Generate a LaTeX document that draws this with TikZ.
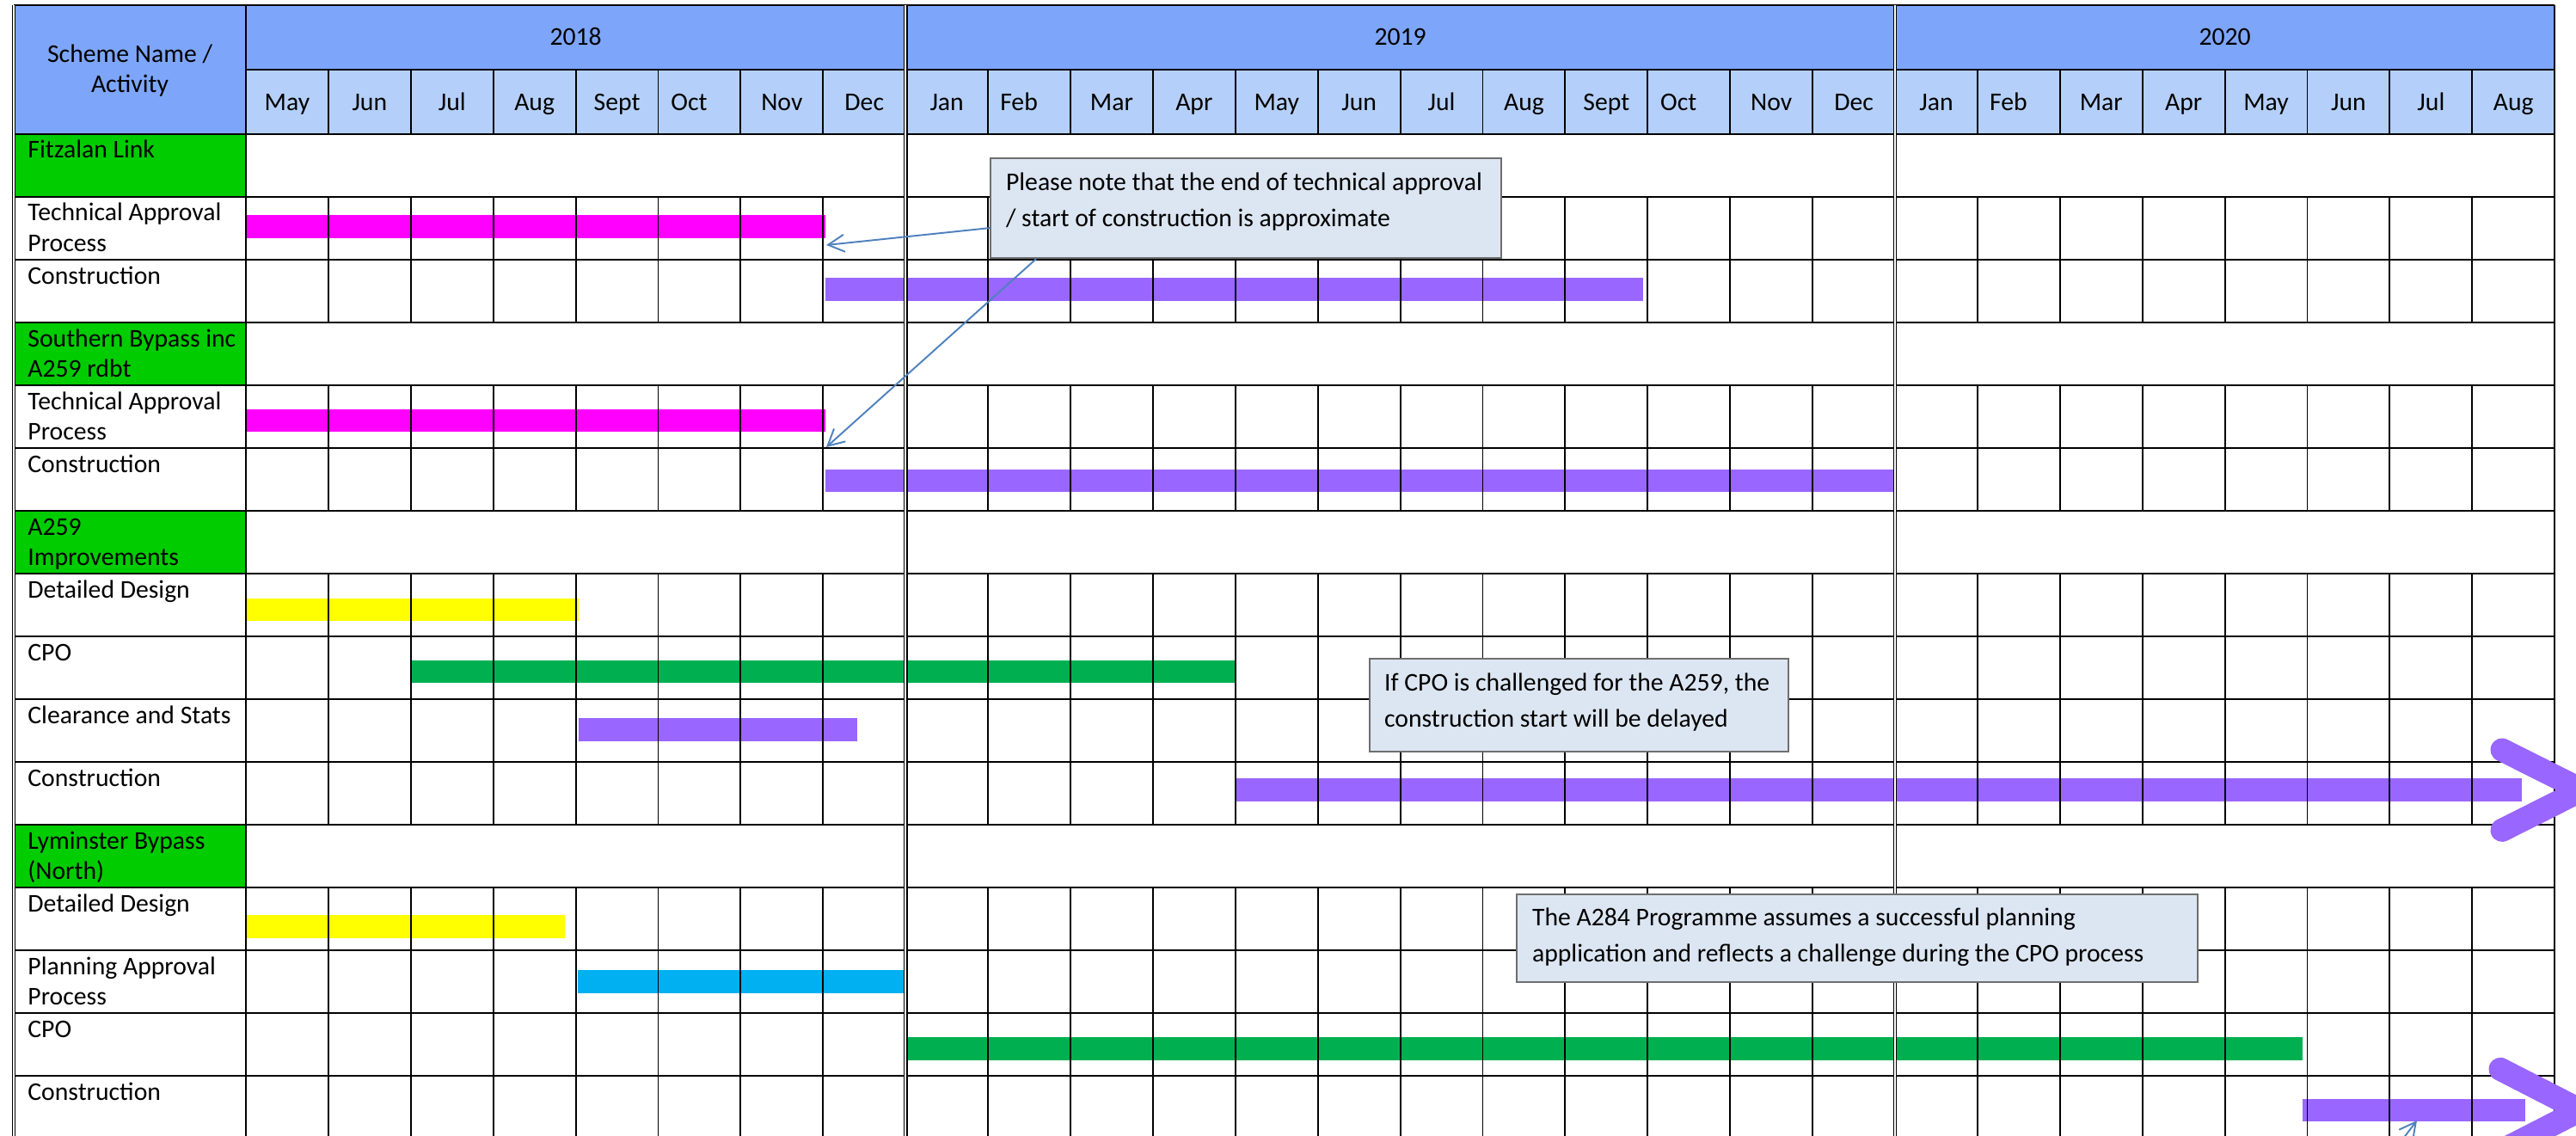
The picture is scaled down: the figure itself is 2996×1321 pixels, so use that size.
\documentclass[tikz,border=0pt]{standalone}
\usepackage{fontspec}
\setmainfont{Carlito}
\usetikzlibrary{arrows.meta,calc}

\definecolor{yearblue}{RGB}{125,166,250}
\definecolor{monthblue}{RGB}{180,208,250}
\definecolor{schemegreen}{RGB}{0,204,0}
\definecolor{barmagenta}{RGB}{255,0,255}
\definecolor{barpurple}{RGB}{153,102,255}
\definecolor{baryellow}{RGB}{255,255,0}
\definecolor{bargreen}{RGB}{0,176,80}
\definecolor{barcyan}{RGB}{0,176,240}
\definecolor{notefill}{RGB}{220,230,242}
\definecolor{notedraw}{RGB}{110,110,110}
\definecolor{noteblue}{RGB}{79,129,189}

\begin{document}
\begin{tikzpicture}[x=0.1mm,y=-0.1mm,
    txt/.style={font=\fontsize{8.45}{9.96}\selectfont,inner sep=0pt},
    rowlabel/.style={txt,anchor=base west,text width=25mm,align=flush left},
    monthlabel/.style={txt,anchor=base},
    note/.style={txt,anchor=north west,draw=notedraw,fill=notefill,line width=0.6pt,
      align=flush left,inner xsep=1.8mm,inner ysep=0pt,text height=3.7mm,
      font=\fontsize{8.45}{11.95}\selectfont},
    callarrow/.style={draw=noteblue,line width=0.55pt,-{Straight Barb[length=1.9mm,width=2mm]}},
    bar/.style={line width=2.65mm,line cap=butt},
    chevron/.style={barpurple,line width=2.7mm,line cap=round,line join=miter},
    grid/.style={line width=0.55pt},
    yearline/.style={line width=0.4pt,double,double distance=0.6pt}]
\useasboundingbox (0,0) rectangle (2996,1321);
\clip (0,0) rectangle (2996,1321);
\fill[white] (0,0) rectangle (2996,1321);

% header
\fill[yearblue] (16,6) rectangle (2971,81);
\fill[yearblue] (16,81) rectangle (286,155.7);
\fill[monthblue] (286,81) rectangle (2971,155.7);
\foreach \r in {0,3,6,11}
  \fill[schemegreen] (16,{155.7+73*\r}) rectangle (286,{228.7+73*\r});

% bars
\draw[bar,barmagenta] (286,263.4) -- (960,263.4);
\draw[bar,barpurple] (960,336.3) -- (1911,336.3);
\draw[bar,barmagenta] (286,488.8) -- (960,488.8);
\draw[bar,barpurple] (960,559) -- (2205,559);
\draw[bar,baryellow] (286,709) -- (673,709);
\draw[bar,bargreen] (479,781) -- (1438,781);
\draw[bar,barpurple] (673,848.7) -- (997,848.7);
\draw[bar,barpurple] (1438,918.7) -- (2933,918.7);
\draw[bar,baryellow] (286,1077.5) -- (657,1077.5);
\draw[bar,barcyan] (672,1141.5) -- (1051,1141.5);
\draw[bar,bargreen] (1053,1219.5) -- (2678,1219.5);
\draw[bar,barpurple] (2678,1291) -- (2937,1291);

% grid
\foreach \ya/\yb in {81/155.7,228.7/374.7,447.7/593.7,666.7/958.7,1031.7/1330}
  \foreach \m in {1,...,27}
    \draw[grid] ({286+95.9*\m},\ya) -- ({286+95.9*\m},\yb);
\foreach \r in {0,...,15}
  \draw[grid] (16,{155.7+73*\r}) -- (2971,{155.7+73*\r});
\draw[grid] (16,6) -- (2971,6);
\draw[grid] (286,81) -- (2971,81);
\draw[grid] (2971,6) -- (2971,1330);
\draw[line width=0.8pt] (286,6) -- (286,1330);
\draw[yearline] (16,6) -- (16,1330);
\foreach \m in {8,20}
  \draw[yearline] ({286+95.9*\m},6) -- ({286+95.9*\m},1330);

% chevrons
\draw[chevron] (2910,872) -- (3003,918.7) -- (2910,965.4);
\draw[chevron] (2908,1243.3) -- (3001,1291) -- (2908,1338.7);

% headings
\node[txt,anchor=base,text width=25mm,align=flush center] (head) at (151,72.7) {Scheme Name /\\Activity};
\node[txt,anchor=base] (y2018) at ({286+95.9*4},52.3) {2018};
\node[txt,anchor=base] (y2019) at ({286+95.9*14},52.3) {2019};
\node[txt,anchor=base] (y2020) at ({286+95.9*24},52.3) {2020};
\foreach \m/\name/\dx in {0/May/0,1/Jun/0,2/Jul/0,3/Aug/0,4/Sept/0,5/Oct/-12,6/Nov/0,7/Dec/0,
    8/Jan/0,9/Feb/-12,10/Mar/0,11/Apr/0,12/May/0,13/Jun/0,14/Jul/0,15/Aug/0,16/Sept/0,17/Oct/-12,
    18/Nov/0,19/Dec/0,20/Jan/0,21/Feb/-12,22/Mar/0,23/Apr/0,24/May/0,25/Jun/0,26/Jul/0,27/Aug/0}
  \node[monthlabel] (m\m) at ({286+95.9*\m+47.95+\dx},128.3) {\name};

% row labels
\foreach \r/\name in {0/{Fitzalan Link},1/{Technical Approval\\Process},2/Construction,
    3/{Southern Bypass inc\\A259 rdbt},4/{Technical Approval\\Process},5/Construction,
    6/{A259\\Improvements},7/{Detailed Design},8/CPO,9/{Clearance and Stats},10/Construction,
    11/{Lyminster Bypass\\(North)},12/{Detailed Design},13/{Planning Approval\\Process},
    14/CPO,15/Construction}
  \node[rowlabel] (lab\r) at (31.7,{184+73*\r}) {\name};

% notes
\node[note,text width=55.8mm,text depth=7.9mm] (note1) at (1151,183)
  {Please note that the end of technical approval\\/ start of construction is approximate};
\node[note,inner xsep=1.7mm,text width=45.3mm,text depth=7.1mm] (note2) at (1592,765)
  {If CPO is challenged for the A259, the\\construction start will be delayed};
\node[note,text width=75.6mm,text height=3.6mm,text depth=6.6mm] (note3) at (1763,1039)
  {The A284 Programme assumes a successful planning\\application and reflects a challenge during the CPO process};

\coordinate (tipA) at (961,285);
\coordinate (tipB) at (961,520);
\coordinate (tipC) at (2811,1303);
\coordinate (tailC) at (2775,1350);
\draw[callarrow] ($(note1.south west)+(0,-36)$) -- (tipA);
\draw[callarrow] ($(note1.south west)+(54,0)$) -- (tipB);
\draw[callarrow] (tailC) -- (tipC);
\end{tikzpicture}
\end{document}
